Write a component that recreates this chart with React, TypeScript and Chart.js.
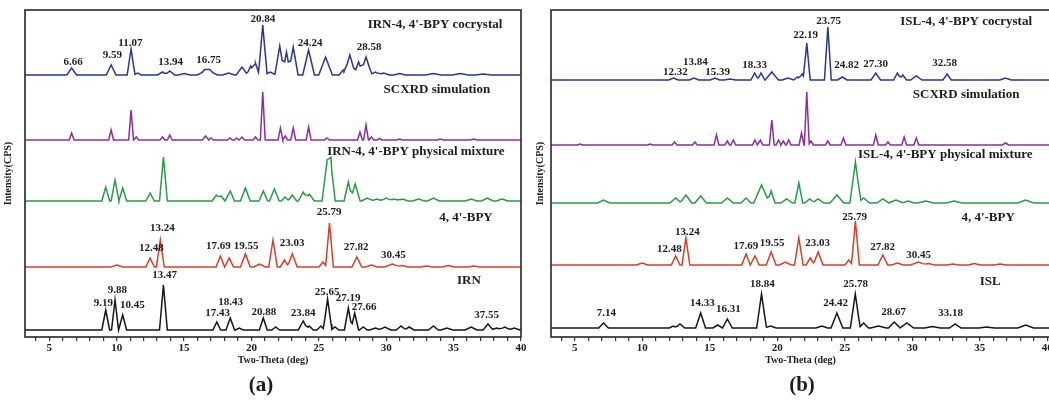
import React, { useEffect, useRef } from "react";
import { Chart, registerables } from "chart.js";

Chart.register(...registerables);

// [2θ (deg), intensity above baseline, half-width at base (deg)]
type Peak = [number, number, number];
// [text, 2θ position of label, height above baseline]
type Label = [string, number, number];

const xMajorTicks = [5, 10, 15, 20, 25, 30, 35, 40];
const xMinorTicks = [4, 6, 7, 8, 9, 11, 12, 13, 14, 16, 17, 18, 19, 21, 22, 23, 24, 26, 27, 28, 29, 31, 32, 33, 34, 36, 37, 38, 39];

// ---------- Panel (a) ----------
const irnCocrystalPeaks: Peak[] = [
  [6.66, 7, 0.25], [9.59, 10, 0.25], [11.07, 26, 0.2], [11.55, 2, 0.2], [13.4, 3, 0.25], [13.94, 4, 0.25],
  [15.0, 1.5, 0.3], [16.55, 4, 0.4], [16.9, 4, 0.4], [18.3, 2, 0.3], [19.3, 8, 0.3], [19.95, 9, 0.22],
  [20.3, 12, 0.2], [20.84, 50, 0.22], [21.4, 3, 0.3], [22.1, 29, 0.25], [22.6, 23, 0.22], [23.1, 28, 0.25],
  [24.24, 25, 0.3], [25.5, 18, 0.35], [26.8, 5, 0.2], [27.3, 20, 0.3], [27.95, 13, 0.25], [28.5, 18, 0.3],
  [29.2, 3, 0.3], [29.8, 2, 0.3], [31.0, 1.5, 0.3], [33.5, 1.5, 0.4], [35.5, 1.5, 0.4], [37.2, 1, 0.4],
];
const irnScxrdPeaks: Peak[] = [
  [6.66, 7, 0.15], [9.59, 10, 0.15], [11.07, 30, 0.15], [11.45, 3, 0.15], [13.4, 3, 0.15], [13.94, 5, 0.15],
  [16.6, 4, 0.2], [17.0, 2, 0.15], [18.4, 2, 0.15], [18.9, 2, 0.15], [19.3, 3, 0.15], [20.3, 3, 0.15],
  [20.84, 48, 0.15], [22.15, 12, 0.15], [22.5, 4, 0.15], [23.1, 12, 0.15], [24.24, 13, 0.15], [25.6, 2, 0.15],
  [28.05, 8, 0.15], [28.5, 15, 0.15], [28.9, 3, 0.15], [29.5, 1.5, 0.15], [31.0, 1, 0.2], [34.0, 1, 0.2], [36.5, 1, 0.2],
];
const irnMixturePeaks: Peak[] = [
  [9.19, 14, 0.2], [9.88, 21, 0.2], [10.45, 13, 0.2], [12.48, 8, 0.22], [13.47, 44, 0.2], [17.4, 6, 0.22],
  [17.75, 5, 0.2], [18.43, 10, 0.22], [19.55, 13, 0.25], [20.88, 10, 0.22], [21.7, 12, 0.25], [22.5, 4, 0.2],
  [23.03, 6, 0.22], [23.84, 9, 0.25], [24.3, 7, 0.25], [25.6, 39, 0.25], [25.9, 37, 0.22], [27.19, 19, 0.22],
  [27.7, 17, 0.25], [28.6, 3, 0.3], [29.3, 2, 0.3], [30.0, 3, 0.3], [30.6, 2, 0.3], [31.2, 2, 0.3],
  [32.4, 2, 0.3], [33.5, 3, 0.3], [36.3, 2, 0.3], [37.5, 3, 0.3], [38.6, 2, 0.3],
];
const bpyPeaks: Peak[] = [
  [10.0, 2, 0.3], [12.48, 9, 0.22], [13.24, 27, 0.2], [17.69, 11, 0.22], [18.35, 9, 0.22], [19.55, 13, 0.25],
  [20.6, 3, 0.3], [21.6, 27, 0.22], [22.45, 7, 0.22], [23.03, 13, 0.25], [25.3, 5, 0.2], [25.79, 44, 0.2],
  [27.82, 10, 0.25], [28.9, 2, 0.3], [30.45, 3, 0.4], [31.2, 1.5, 0.3], [33.0, 1, 0.3], [34.6, 1.5, 0.3], [36.5, 1, 0.3],
];
const irnPeaks: Peak[] = [
  [9.19, 20, 0.2], [9.88, 30, 0.18], [10.45, 15, 0.2], [13.47, 45, 0.2], [17.43, 8, 0.2], [18.43, 12, 0.22],
  [19.1, 2, 0.2], [20.88, 12, 0.2], [21.8, 3, 0.2], [23.84, 9, 0.25], [24.3, 4, 0.2], [25.15, 4, 0.2],
  [25.65, 31, 0.22], [26.2, 3, 0.2], [27.19, 22, 0.2], [27.66, 17, 0.2], [28.3, 3, 0.2], [29.2, 2, 0.3],
  [29.9, 3, 0.3], [31.1, 4, 0.25], [31.7, 3, 0.25], [33.5, 4, 0.25], [34.5, 2, 0.3], [36.3, 3, 0.3],
  [37.55, 6, 0.25], [38.2, 2, 0.3], [38.8, 3, 0.3], [39.5, 2, 0.3],
];

const irnCocrystalLabels: Label[] = [
  ["6.66", 6.77, 13], ["9.59", 9.68, 20], ["11.07", 11.02, 32], ["13.94", 14.0, 13],
  ["16.75", 16.83, 15], ["20.84", 20.85, 56], ["24.24", 24.35, 32], ["28.58", 28.74, 28],
];
const bpyLabelsA: Label[] = [
  ["12.48", 12.58, 19], ["13.24", 13.4, 39], ["17.69", 17.55, 21], ["19.55", 19.6, 21],
  ["23.03", 23.01, 24], ["25.79", 25.76, 55], ["27.82", 27.77, 20], ["30.45", 30.53, 12],
];
const irnLabels: Label[] = [
  ["9.19", 9.01, 27], ["9.88", 10.05, 40], ["10.45", 11.17, 25], ["13.47", 13.55, 55],
  ["17.43", 17.5, 17], ["18.43", 18.46, 28], ["20.88", 20.92, 18], ["23.84", 23.83, 17],
  ["25.65", 25.61, 38], ["27.19", 27.18, 32], ["27.66", 28.37, 23], ["37.55", 37.45, 15],
];

// ---------- Panel (b) ----------
const islCocrystalPeaks: Peak[] = [
  [12.32, 2, 0.25], [13.84, 2, 0.25], [15.39, 2, 0.25], [16.5, 1, 0.3], [18.33, 7, 0.2], [18.8, 7, 0.2],
  [19.6, 8, 0.35], [20.8, 2, 0.3], [21.5, 3, 0.2], [21.85, 6, 0.2], [22.19, 37, 0.18], [23.75, 53, 0.18],
  [24.82, 3, 0.25], [27.3, 7, 0.25], [28.9, 7, 0.2], [29.3, 5, 0.2], [30.3, 4, 0.3], [32.58, 6, 0.22], [36.9, 2, 0.3],
];
const islScxrdPeaks: Peak[] = [
  [5.4, 1, 0.15], [10.6, 1, 0.15], [12.4, 3, 0.15], [13.9, 3, 0.15], [15.5, 10, 0.15], [16.3, 4, 0.15],
  [16.75, 5, 0.15], [18.35, 5, 0.15], [18.75, 5, 0.15], [19.6, 25, 0.15], [20.1, 5, 0.15], [20.45, 4, 0.15],
  [20.85, 5, 0.15], [21.8, 12, 0.15], [22.19, 53, 0.15], [22.5, 4, 0.15], [23.75, 4, 0.15], [24.9, 7, 0.15],
  [27.3, 10, 0.15], [28.2, 3, 0.15], [29.4, 8, 0.15], [30.3, 7, 0.15], [36.9, 2, 0.2],
];
const islMixturePeaks: Peak[] = [
  [7.14, 3, 0.3], [12.48, 5, 0.3], [13.24, 8, 0.3], [14.33, 7, 0.3], [16.31, 5, 0.3], [17.69, 5, 0.25],
  [18.84, 18, 0.4], [19.55, 12, 0.2], [20.7, 4, 0.3], [21.6, 20, 0.2], [22.4, 4, 0.25], [23.03, 4, 0.3],
  [24.42, 8, 0.35], [25.79, 41, 0.28], [26.4, 5, 0.3], [27.82, 4, 0.3], [28.8, 3, 0.4], [29.7, 2, 0.3],
  [31.0, 2, 0.4], [33.1, 2, 0.4], [38.4, 3, 0.4],
];
const islPeaks: Peak[] = [
  [7.14, 5, 0.25], [12.3, 2, 0.2], [12.8, 4, 0.25], [14.33, 15, 0.25], [15.6, 3, 0.25], [16.31, 9, 0.25],
  [18.84, 34, 0.25], [19.5, 2, 0.3], [23.3, 2, 0.3], [24.42, 15, 0.3], [25.78, 34, 0.25], [26.4, 5, 0.25],
  [27.5, 2, 0.4], [28.67, 6, 0.3], [29.6, 5, 0.35], [31.5, 1.5, 0.4], [33.18, 4, 0.3], [35.5, 1, 0.4], [38.4, 3, 0.4],
];

const islCocrystalLabels: Label[] = [
  ["12.32", 12.46, 8], ["13.84", 13.94, 18], ["15.39", 15.58, 8], ["18.33", 18.32, 15],
  ["22.19", 22.1, 45], ["23.75", 23.8, 59], ["24.82", 25.14, 15], ["27.30", 27.29, 16], ["32.58", 32.4, 17],
];
const bpyLabelsB: Label[] = [
  ["12.48", 12.02, 16], ["13.24", 13.35, 33], ["17.69", 17.68, 19], ["19.55", 19.62, 22],
  ["23.03", 22.99, 22], ["25.79", 25.73, 48], ["27.82", 27.81, 18], ["30.45", 30.48, 10],
];
const islLabels: Label[] = [
  ["7.14", 7.35, 15], ["14.33", 14.46, 25], ["16.31", 16.39, 19], ["18.84", 18.91, 44],
  ["24.42", 24.32, 25], ["25.78", 25.8, 44], ["28.67", 28.62, 16], ["33.18", 32.85, 15],
];

const COLORS = {
  cocrystal: "#29378c",
  scxrd: "#8d2ea0",
  mixture: "#2b9a47",
  bpy: "#d63e2c",
  api: "#161616",
};
const SERIF = '"Liberation Serif", "DejaVu Serif", serif';

type Series = {
  name: string;
  peaks: Peak[];
  base: number;
  color: string;
  broaden: number;
  nameX: number;
  nameDy: number;
  labels: Label[];
};

const panelA: Series[] = [
  { name: "IRN-4, 4'-BPY cocrystal", peaks: irnCocrystalPeaks, base: 262, color: COLORS.cocrystal, broaden: 1.45, nameX: 33.62, nameDy: 50, labels: irnCocrystalLabels },
  { name: "SCXRD simulation", peaks: irnScxrdPeaks, base: 197, color: COLORS.scxrd, broaden: 1.2, nameX: 33.76, nameDy: 50, labels: [] },
  { name: "IRN-4, 4'-BPY physical mixture", peaks: irnMixturePeaks, base: 136, color: COLORS.mixture, broaden: 1.45, nameX: 32.2, nameDy: 49, labels: [] },
  { name: "4, 4'-BPY", peaks: bpyPeaks, base: 70, color: COLORS.bpy, broaden: 1.45, nameX: 35.92, nameDy: 49, labels: bpyLabelsA },
  { name: "IRN", peaks: irnPeaks, base: 7, color: COLORS.api, broaden: 1.45, nameX: 36.14, nameDy: 49, labels: irnLabels },
];
const panelB: Series[] = [
  { name: "ISL-4, 4'-BPY cocrystal", peaks: islCocrystalPeaks, base: 257, color: COLORS.cocrystal, broaden: 1.4, nameX: 33.99, nameDy: 58, labels: islCocrystalLabels },
  { name: "SCXRD simulation", peaks: islScxrdPeaks, base: 192, color: COLORS.scxrd, broaden: 1.2, nameX: 33.99, nameDy: 50, labels: [] },
  { name: "ISL-4, 4'-BPY physical mixture", peaks: islMixturePeaks, base: 134, color: COLORS.mixture, broaden: 1.45, nameX: 32.44, nameDy: 48, labels: [] },
  { name: "4, 4'-BPY", peaks: bpyPeaks, base: 72, color: COLORS.bpy, broaden: 1.45, nameX: 35.62, nameDy: 47, labels: bpyLabelsB },
  { name: "ISL", peaks: islPeaks, base: 9, color: COLORS.api, broaden: 1.45, nameX: 35.77, nameDy: 46, labels: islLabels },
];

function profile(peaks: Peak[], base: number, broaden: number, xStart: number, xEnd: number) {
  const pk = peaks.map(([p, h, w]) => [p, h, w * broaden] as Peak);
  const xs = new Set<number>([xStart, xEnd]);
  pk.forEach(([p, , w]) => {
    xs.add(p - w);
    xs.add(p);
    xs.add(p + w);
  });
  const sorted = Array.from(xs).sort((a, b) => a - b);
  return sorted.map((x) => ({
    x,
    y: base + pk.reduce((s, [p, h, w]) => s + Math.max(0, h * (1 - Math.abs(x - p) / w)), 0),
  }));
}

const textPlugin = {
  id: "xrdText",
  afterDraw(chart: any, _args: any, opts: any) {
    const { ctx, chartArea, scales } = chart;
    ctx.save();
    ctx.strokeStyle = "#333";
    ctx.lineWidth = 1.7;
    ctx.strokeRect(chartArea.left, chartArea.top, chartArea.right - chartArea.left, chartArea.bottom - chartArea.top);
    ctx.fillStyle = "#1c1c1c";
    ctx.textAlign = "center";
    ctx.textBaseline = "middle";
    (opts.series as Series[]).forEach((s) => {
      ctx.font = `bold 13px ${SERIF}`;
      ctx.fillText(s.name, scales.x.getPixelForValue(s.nameX), scales.y.getPixelForValue(s.base + s.nameDy));
      ctx.font = `bold 11px ${SERIF}`;
      s.labels.forEach(([t, x, dy]) => {
        ctx.fillText(t, scales.x.getPixelForValue(x), scales.y.getPixelForValue(s.base + dy));
      });
    });
    ctx.restore();
  },
};

function Panel({ series, xMin, xMax, yTitleX, yAxisWidth, padRight, width }: {
  series: Series[]; xMin: number; xMax: number; yTitleX: number; yAxisWidth: number; padRight: number; width: number;
}) {
  const ref = useRef<HTMLCanvasElement>(null);
  useEffect(() => {
    if (!ref.current) return;
    const tickFont = { family: SERIF, size: 11, weight: "bold" as const };
    const chart = new Chart(ref.current, {
      type: "line",
      data: {
        datasets: series.map((s) => ({
          data: profile(s.peaks, s.base, s.broaden, xMin - 0.5, 41),
          borderColor: s.color,
          borderWidth: 1.5,
          pointRadius: 0,
          tension: 0,
          fill: false,
        })),
      },
      options: {
        animation: false,
        responsive: false,
        maintainAspectRatio: false,
        devicePixelRatio: 1,
        layout: { padding: { top: 10, right: padRight, left: 0, bottom: 0 } },
        plugins: {
          legend: { display: false },
          tooltip: { enabled: false },
          xrdText: { series },
        } as any,
        scales: {
          x: {
            type: "linear",
            min: xMin,
            max: xMax,
            afterBuildTicks: (s: any) => {
              s.ticks = [...xMajorTicks, ...xMinorTicks].sort((a, b) => a - b).map((v) => ({ value: v }));
            },
            afterFit: (s: any) => {
              s.height = 63;
              s.paddingLeft = 0;
              s.paddingRight = 0;
            },
            ticks: {
              autoSkip: false,
              maxRotation: 0,
              padding: 1,
              font: tickFont,
              color: "#1c1c1c",
              callback: (v: any) => (xMajorTicks.includes(Number(v)) ? String(v) : ""),
            },
            grid: { display: true, drawOnChartArea: false, drawTicks: true, tickLength: 4, color: "#333", lineWidth: 1.2 },
            border: { display: false },
            title: {
              display: true,
              text: "Two-Theta (deg)",
              font: { family: SERIF, size: 10, weight: "bold" },
              color: "#1c1c1c",
              padding: { top: 0, bottom: 34 },
            },
          },
          y: {
            type: "linear",
            min: 0,
            max: 327,
            afterFit: (s: any) => {
              s.width = yAxisWidth;
            },
            ticks: { display: false },
            grid: { display: false },
            border: { display: false },
            title: {
              display: true,
              text: "Intensity(CPS)",
              font: { family: SERIF, size: 10, weight: "bold" },
              color: "#1c1c1c",
              padding: { top: yTitleX - 6, bottom: 0 },
            },
          },
        },
      },
      plugins: [textPlugin],
    } as any);
    return () => chart.destroy();
  }, []);
  return <canvas ref={ref} width={width} height={400} style={{ width, height: 400, display: "block" }} />;
}

export default function App() {
  const tag: React.CSSProperties = {
    position: "absolute",
    top: 372,
    fontFamily: SERIF,
    fontWeight: "bold",
    fontSize: 21,
    lineHeight: "24px",
    color: "#1c1c1c",
    width: 60,
    textAlign: "center",
  };
  return (
    <div style={{ position: "fixed", left: 0, top: 0, width: 1049, height: 400, overflow: "hidden", background: "#fff" }}>
      <div style={{ position: "absolute", left: 0, top: 0 }}>
        <Panel series={panelA} xMin={3.2} xMax={40} yTitleX={8} yAxisWidth={25} padRight={9} width={530} />
      </div>
      <div style={{ position: "absolute", left: 524, top: 0 }}>
        <Panel series={panelB} xMin={3.25} xMax={40.2} yTitleX={16} yAxisWidth={27} padRight={4} width={530} />
      </div>
      <div style={{ ...tag, left: 231 }}>(a)</div>
      <div style={{ ...tag, left: 772 }}>(b)</div>
    </div>
  );
}
